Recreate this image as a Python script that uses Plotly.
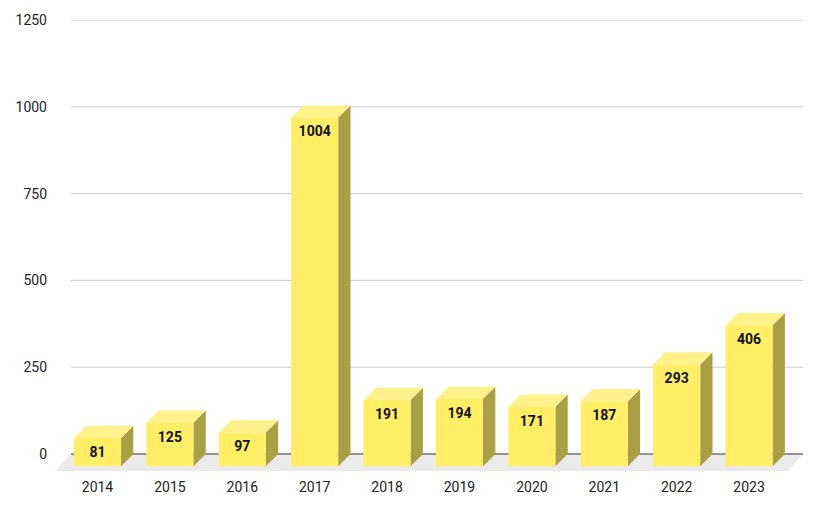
import plotly.graph_objects as go

years = ["2014", "2015", "2016", "2017", "2018", "2019", "2020", "2021", "2022", "2023"]
counts = [81, 125, 97, 1004, 191, 194, 171, 187, 293, 406]
y_ticks = [0, 250, 500, 750, 1000, 1250]

# 3d look: depth offset in data units
dx = 0.17
dy = 35
half = 0.325
front_col = "#FFEE66"
top_col = "#FFF28A"
side_col = "#A9A046"

x_lo, x_hi = -0.587, 9.745
y_lo = -49

fig = go.Figure()

# floor
fig.add_trace(go.Scatter(
    x=[x_lo, 9.54, x_hi, -0.366], y=[y_lo, y_lo, 0, 0],
    fill="toself", fillcolor="#EBEBEB", line=dict(width=0),
    mode="lines", hoverinfo="skip", showlegend=False))

# gridlines on the back wall
for t in y_ticks:
    fig.add_trace(go.Scatter(
        x=[-0.366, x_hi], y=[t, t], mode="lines",
        line=dict(color="#333333" if t == 0 else "#CCCCCC", width=1),
        hoverinfo="skip", showlegend=False))

for i, v in enumerate(counts):
    x0, x1 = i - half, i + half
    top = v - dy
    # side
    fig.add_trace(go.Scatter(
        x=[x1, x1 + dx, x1 + dx, x1], y=[-dy, 0, v, top],
        fill="toself", fillcolor=side_col, line=dict(width=0),
        mode="lines", hoverinfo="skip", showlegend=False))
    # top
    fig.add_trace(go.Scatter(
        x=[x0, x1, x1 + dx, x0 + dx], y=[top, top, v, v],
        fill="toself", fillcolor=top_col, line=dict(width=0),
        mode="lines", hoverinfo="skip", showlegend=False))
    # front
    fig.add_trace(go.Scatter(
        x=[x0, x1, x1, x0], y=[-dy, -dy, top, top],
        fill="toself", fillcolor=front_col, line=dict(width=0),
        mode="lines", hoverinfo="skip", showlegend=False))

fig.add_trace(go.Scatter(
    x=list(range(len(years))), y=[v - dy - 44 for v in counts],
    mode="text", text=[str(v) for v in counts],
    textfont=dict(family="Roboto", size=14, color="#111111", weight="bold"),
    hoverinfo="skip", showlegend=False))

# page body has an 8px margin, so the figure is a bit smaller than the window
fig.update_layout(
    width=810, height=497,
    margin=dict(l=47, r=15, t=12, b=34),
    plot_bgcolor="white", paper_bgcolor="white",
    font=dict(family="Roboto", size=14, color="#222222"),
    xaxis=dict(range=[x_lo, x_hi], tickvals=list(range(len(years))),
               ticktext=years, showgrid=False, zeroline=False,
               showline=False, ticklabelstandoff=6, automargin=False),
    yaxis=dict(range=[y_lo, 1250], tickvals=y_ticks, showgrid=False,
               zeroline=False, showline=False, ticklabelstandoff=7,
               automargin=False),
)

fig.write_html("out.html")
